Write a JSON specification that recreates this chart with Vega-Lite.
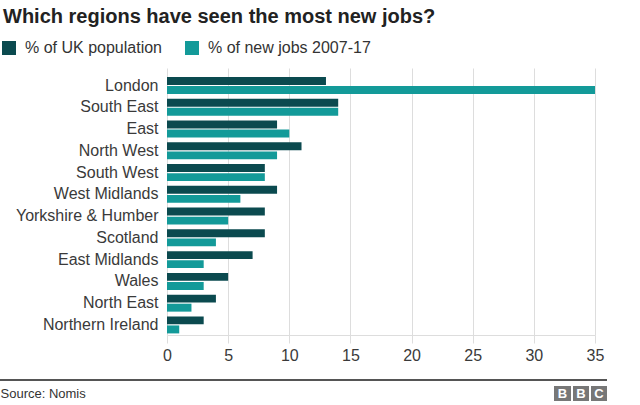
{
  "$schema": "https://vega.github.io/schema/vega-lite/v6.json",
  "width": 428,
  "height": 267,
  "autosize": {"type": "none"},
  "padding": {"left": 167, "top": 68, "right": 45, "bottom": 70},
  "background": "white",
  "config": {"font": "Liberation Sans", "view": {"stroke": null}},
  "title": {
    "text": "Which regions have seen the most new jobs?",
    "anchor": "start",
    "frame": "group",
    "dx": -164,
    "offset": 17,
    "dy": 20,
    "baseline": "alphabetic",
    "fontSize": 20,
    "fontWeight": "bold",
    "color": "#222222"
  },
  "data": {
    "values": [
      {"region": "London", "series": "% of UK population", "value": 13},
      {"region": "London", "series": "% of new jobs 2007-17", "value": 35},
      {"region": "South East", "series": "% of UK population", "value": 14},
      {"region": "South East", "series": "% of new jobs 2007-17", "value": 14},
      {"region": "East", "series": "% of UK population", "value": 9},
      {"region": "East", "series": "% of new jobs 2007-17", "value": 10},
      {"region": "North West", "series": "% of UK population", "value": 11},
      {"region": "North West", "series": "% of new jobs 2007-17", "value": 9},
      {"region": "South West", "series": "% of UK population", "value": 8},
      {"region": "South West", "series": "% of new jobs 2007-17", "value": 8},
      {"region": "West Midlands", "series": "% of UK population", "value": 9},
      {"region": "West Midlands", "series": "% of new jobs 2007-17", "value": 6},
      {"region": "Yorkshire & Humber", "series": "% of UK population", "value": 8},
      {"region": "Yorkshire & Humber", "series": "% of new jobs 2007-17", "value": 5},
      {"region": "Scotland", "series": "% of UK population", "value": 8},
      {"region": "Scotland", "series": "% of new jobs 2007-17", "value": 4},
      {"region": "East Midlands", "series": "% of UK population", "value": 7},
      {"region": "East Midlands", "series": "% of new jobs 2007-17", "value": 3},
      {"region": "Wales", "series": "% of UK population", "value": 5},
      {"region": "Wales", "series": "% of new jobs 2007-17", "value": 3},
      {"region": "North East", "series": "% of UK population", "value": 4},
      {"region": "North East", "series": "% of new jobs 2007-17", "value": 2},
      {"region": "Northern Ireland", "series": "% of UK population", "value": 3},
      {"region": "Northern Ireland", "series": "% of new jobs 2007-17", "value": 1}
    ]
  },
  "layer": [
    {
      "mark": {"type": "bar"},
      "encoding": {
        "y": {
          "field": "region",
          "type": "nominal",
          "sort": ["London", "South East", "East", "North West", "South West", "West Midlands", "Yorkshire & Humber", "Scotland", "East Midlands", "Wales", "North East", "Northern Ireland"],
          "scale": {"paddingInner": 0.219, "paddingOuter": 0.245, "align": 0.85},
          "axis": {
            "title": null,
            "domain": false,
            "ticks": false,
            "labelFontSize": 16,
            "labelColor": "#3a3a3a",
            "labelPadding": 9,
            "labelLimit": 300
          }
        },
        "yOffset": {
          "field": "series",
          "type": "nominal",
          "sort": ["% of UK population", "% of new jobs 2007-17"],
          "scale": {"paddingInner": 0.12}
        },
        "x": {
          "field": "value",
          "type": "quantitative",
          "scale": {"domain": [0, 35], "nice": false},
          "axis": {
            "values": [0, 5, 10, 15, 20, 25, 30, 35],
            "grid": true,
            "gridColor": "#dddddd",
            "domainColor": "#dddddd",
            "tickColor": "#dddddd",
            "tickSize": 8,
            "labelFontSize": 16,
            "labelColor": "#3a3a3a",
            "labelPadding": 4,
            "labelFlush": false,
            "title": "Source: Nomis",
            "titleX": -167,
            "titleY": 58,
            "titleAlign": "left",
            "titleBaseline": "middle",
            "titleFontSize": 13,
            "titleFontWeight": "normal",
            "titleColor": "#333333"
          }
        },
        "color": {
          "field": "series",
          "type": "nominal",
          "scale": {
            "domain": ["% of UK population", "% of new jobs 2007-17"],
            "range": ["#0b4a4f", "#139a99"]
          },
          "legend": {
            "orient": "none",
            "legendX": -166,
            "legendY": -28,
            "direction": "horizontal",
            "title": null,
            "symbolType": "square",
            "symbolSize": 196,
            "symbolStrokeWidth": 0,
            "labelFontSize": 16,
            "labelColor": "#333333",
            "labelOffset": 8,
            "labelLimit": 300,
            "columnPadding": 22,
            "padding": 0
          }
        }
      }
    },
    {
      "data": {"values": [{}]},
      "mark": {"type": "rule", "color": "#555555", "strokeWidth": 2},
      "encoding": {"x": {"value": -167}, "x2": {"value": 440}, "y": {"value": 312}}
    },
    {
      "data": {"values": [{}]},
      "mark": {"type": "rect", "color": "#777777"},
      "encoding": {"x": {"value": 387}, "x2": {"value": 404}, "y": {"value": 318}, "y2": {"value": 333}}
    },
    {
      "data": {"values": [{}]},
      "mark": {"type": "rect", "color": "#777777"},
      "encoding": {"x": {"value": 406}, "x2": {"value": 422}, "y": {"value": 318}, "y2": {"value": 333}}
    },
    {
      "data": {"values": [{}]},
      "mark": {"type": "rect", "color": "#777777"},
      "encoding": {"x": {"value": 424}, "x2": {"value": 440}, "y": {"value": 318}, "y2": {"value": 333}}
    },
    {
      "data": {"values": [{"t": "B"}]},
      "mark": {"type": "text", "color": "white", "fontSize": 13, "fontWeight": "bold", "baseline": "middle", "align": "center"},
      "encoding": {"text": {"field": "t"}, "x": {"value": 395.5}, "y": {"value": 326}}
    },
    {
      "data": {"values": [{"t": "B"}]},
      "mark": {"type": "text", "color": "white", "fontSize": 13, "fontWeight": "bold", "baseline": "middle", "align": "center"},
      "encoding": {"text": {"field": "t"}, "x": {"value": 414}, "y": {"value": 326}}
    },
    {
      "data": {"values": [{"t": "C"}]},
      "mark": {"type": "text", "color": "white", "fontSize": 13, "fontWeight": "bold", "baseline": "middle", "align": "center"},
      "encoding": {"text": {"field": "t"}, "x": {"value": 432}, "y": {"value": 326}}
    }
  ]
}
